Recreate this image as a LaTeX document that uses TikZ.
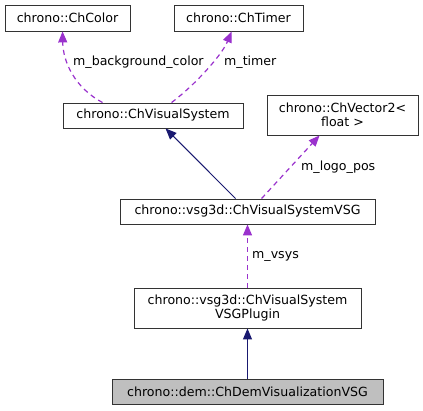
\documentclass[tikz,border=0pt]{standalone}
\usepackage{fontspec}
\setmainfont{DejaVu Sans}
\usetikzlibrary{arrows.meta}
\usetikzlibrary{positioning}
\definecolor{usecol}{HTML}{9A32CD}
\definecolor{inhcol}{HTML}{191970}
\definecolor{demgray}{HTML}{BFBFBF}

\begin{document}
\begin{tikzpicture}[x=1pt,y=-1pt,
  cls/.style={draw=black!80,line width=0.9pt,inner sep=0pt,align=center,font=\fontsize{12.6}{14.5}\selectfont},
  usage/.style={draw=usecol,line width=1.2pt,dash pattern=on 5pt off 4pt,-{Triangle[length=11pt,width=9pt,fill=usecol]}},
  inherit/.style={draw=inhcol,line width=1pt,-{Triangle[length=11pt,width=9pt,fill=inhcol]}},
  lbl/.style={anchor=west,inner sep=0pt,font=\fontsize{12.6}{14.5}\selectfont}]
\useasboundingbox (0,0) rectangle (423,411);
\fill[white] (0,0) rectangle (423,411);
\node[cls,minimum width=125pt,minimum height=26pt] (color) at (67.5,18) {chrono::ChColor};
\node[cls,minimum width=129pt,minimum height=26pt] (timer) at (238.5,18) {chrono::ChTimer};
\node[cls,minimum width=180pt,minimum height=25pt] (vissys) at (153,115.5) {chrono::ChVisualSystem};
\node[cls,minimum width=151pt,minimum height=40pt] (vec2) at (342.5,115) {chrono::ChVector2<\\float >};
\node[cls,minimum width=255pt,minimum height=25pt] (vsg) at (247.5,211.5) {chrono::vsg3d::ChVisualSystemVSG};
\node[cls,minimum width=227pt,minimum height=40pt] (plugin) at (247.5,308) {chrono::vsg3d::ChVisualSystem\\VSGPlugin};
\node[cls,fill=demgray,minimum width=271pt,minimum height=25pt] (dem) at (247.5,391.5) {chrono::dem::ChDemVisualizationVSG};

\draw[usage] ([xshift=40pt]vissys.north west) .. controls (75,88) and (63,62) .. ([xshift=58pt]color.south west);
\draw[usage] ([xshift=109pt]vissys.north west) .. controls (195,85) and (222,55) .. ([xshift=58pt]timer.south west);
\draw[inherit] ([xshift=116pt]vsg.north west) -- ([xshift=103pt]vissys.south west);
\draw[usage] ([xshift=142pt]vsg.north west) -- ([xshift=53pt]vec2.south west);
\draw[usage] (plugin.north) -- (vsg.south);
\draw[inherit] (dem.north) -- (plugin.south);

\node[lbl] (bglbl) at (73,62) {m\_background\_color};
\node[lbl] (timerlbl) at (224,62) {m\_timer};
\node[lbl] (logolbl) at (301,167) {m\_logo\_pos};
\node[lbl] (vsyslbl) at (252,256) {m\_vsys};
\end{tikzpicture}
\end{document}
